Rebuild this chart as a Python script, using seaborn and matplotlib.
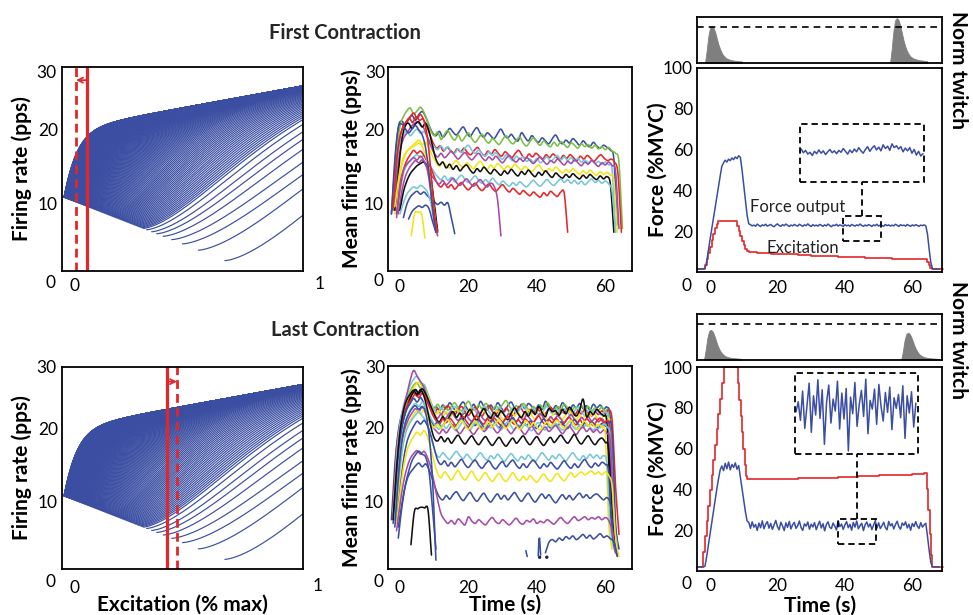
import numpy as np
import pandas as pd
import matplotlib
matplotlib.use("Agg")
import matplotlib.pyplot as plt
from matplotlib.patches import Rectangle
import seaborn as sns

sns.set_theme(style="white")
plt.rcParams['font.family'] = ['Lato', 'DejaVu Sans']

# ---------------------------------------------------------------- colours
BLUE, GREEN, RED = '#3B4EA2', '#7AC043', '#E3262A'
CYAN, PURPLE, YELLOW, BLACK = '#76C7D9', '#A64BA8', '#F2E41C', '#111111'
PAL = {'b': BLUE, 'g': GREEN, 'r': RED, 'c': CYAN, 'm': PURPLE, 'y': YELLOW, 'k': BLACK}

# ---------------------------------------------------------------- motor unit pool (rate vs excitation)
pool_rate_base = 20.0        # pps, asymptote intercept
pool_rate_slope = 6.0        # pps per unit excitation
pool_knee_depth = 2.5
pool_knee_scale = 0.08
onset_rate_first = 10.8      # pps at recruitment of the first unit
onset_rate_slope = -13.0     # change of onset rate with threshold
late_thresholds = [0.337, 0.351, 0.372, 0.393, 0.420, 0.455, 0.500, 0.566, 0.676]
early_threshold_range = (0.008, 0.33)
n_early_units = 200
exc_first = {'solid': 0.104, 'dashed': 0.058}
exc_last = {'solid': 0.437, 'dashed': 0.477}

# ---------------------------------------------------------------- mean firing rates, first contraction (1 s samples)
first_colors = ['b', 'g', 'r', 'c', 'm', 'y', 'k', 'c', 'r', 'm', 'b',
                'k', 'y', 'c', 'b', 'y', 'm', 'b', 'r']
first_onsets = [-2.5, -2.0, -2.3, -2.0, -2.0, -1.5, -1.5, -1.0, -1.0, -0.5, 1.0,
                0.0, -1.5, 0.0, 2.5, 3.3, -1.0, -2.5, -2.0]
first_rates = [
    [8.5, 15, 20.3, 21.2, 20.6, 21.4, 22.0, 21.3, 22.1, 22.5, 21.8, 20.6, 19.6, 19.2, 19.8, 19.0, 19.5, 20.2, 19.7, 19.3,
     19.9, 20.4, 19.6, 19.1, 19.8, 20.3, 19.5, 19.0, 19.6, 19.2, 18.8, 19.5, 20.1, 19.3, 18.9, 19.4, 18.8, 18.5, 19.6, 19.0,
     18.5, 19.2, 18.7, 18.3, 18.9, 18.5, 18.1, 18.8, 19.3, 18.5, 18.1, 18.6, 18.2, 18.8, 18.4, 17.9, 18.5, 18.0, 17.7, 18.3,
     17.8, 17.5, 17.9, 17.6, 17.2, 16.0, 7.0],
    [9.5, 16.5, 20.5, 21.8, 22.6, 23.0, 22.2, 22.6, 23.1, 22.4, 21.2, 19.9, 19.2, 19.7, 18.7, 19.4, 19.9, 19.1, 18.6, 19.3,
     18.5, 19.0, 19.6, 18.8, 18.3, 18.9, 19.4, 18.6, 18.2, 18.8, 18.4, 18.0, 18.7, 19.2, 18.5, 18.1, 18.6, 19.0, 18.2, 17.8,
     18.4, 18.9, 18.3, 17.9, 18.5, 18.0, 17.7, 18.3, 17.8, 18.4, 18.0, 17.6, 18.2, 17.9, 17.5, 18.1, 17.7, 18.0, 17.5, 17.9,
     17.4, 17.7, 17.3, 17.6, 17.1, 16.8, 15.5, 6.5],
    [9.0, 14.5, 18.3, 20.2, 21.0, 21.6, 21.0, 21.8, 21.3, 21.5, 20.6, 19.4, 18.2, 17.5, 17.8, 17.1, 17.6, 17.2, 16.8, 17.4,
     17.0, 17.5, 16.9, 16.6, 17.2, 17.6, 16.9, 16.5, 17.1, 16.7, 17.3, 16.8, 16.4, 17.0, 16.6, 16.2, 16.8, 17.2, 16.5, 16.1,
     16.7, 16.3, 16.8, 16.4, 16.0, 16.6, 16.2, 16.7, 16.3, 15.9, 16.5, 16.1, 16.6, 16.2, 15.8, 16.4, 16.0, 16.5, 16.1, 15.7,
     16.2, 16.6, 16.1, 15.8, 16.0, 15.6, 14.0, 6.0],
    [10.0, 15.0, 18.3, 19.3, 19.8, 19.2, 19.7, 20.1, 19.5, 19.8, 19.0, 18.3, 17.7, 17.3, 17.8, 17.2, 17.7, 17.1, 16.8, 17.4,
     16.9, 17.5, 17.9, 17.2, 16.8, 17.3, 16.7, 16.4, 17.0, 16.5, 16.9, 16.3, 16.0, 16.6, 16.2, 15.8, 16.4, 16.0, 16.3, 15.7,
     16.0, 15.6, 16.1, 15.5, 15.9, 16.3, 15.7, 16.1, 16.5, 15.9, 16.3, 15.8, 16.2, 15.7, 16.1, 15.6, 15.9, 15.5, 15.8, 15.4,
     15.7, 15.3, 15.6, 15.2, 14.5, 6.0],
    [9.0, 13.5, 17.0, 18.8, 19.5, 20.3, 20.8, 21.1, 20.6, 20.2, 19.0, 17.8, 16.8, 16.3, 16.8, 16.2, 16.6, 17.1, 16.5, 16.0,
     16.5, 16.9, 16.3, 15.9, 16.4, 16.8, 16.2, 15.8, 16.3, 15.9, 16.4, 15.9, 15.5, 16.1, 16.5, 15.9, 15.6, 16.1, 15.7, 16.2,
     15.8, 15.4, 15.9, 16.3, 15.7, 15.3, 15.8, 15.5, 16.0, 15.6, 15.2, 15.7, 15.4, 15.9, 15.5, 15.1, 15.6, 15.3, 15.8, 15.4,
     15.0, 15.5, 15.2, 15.6, 15.1, 14.3, 6.5],
    [8.5, 12.0, 15.0, 16.5, 17.3, 17.8, 18.2, 18.6, 18.0, 18.3, 17.5, 16.4, 15.6, 15.0, 15.6, 15.1, 14.8, 15.4, 15.8, 15.2,
     14.9, 15.5, 15.1, 14.7, 15.3, 15.7, 15.0, 14.6, 15.2, 14.8, 15.4, 15.0, 14.6, 15.1, 14.7, 15.3, 14.9, 14.5, 15.0, 14.6,
     14.3, 14.8, 15.2, 14.6, 14.2, 14.7, 14.4, 14.9, 14.5, 14.1, 14.6, 14.2, 14.7, 14.3, 13.9, 14.4, 14.0, 14.5, 14.1, 13.8,
     14.3, 13.9, 14.2, 13.8, 13.0, 6.0],
    [9.0, 14.0, 18.5, 20.5, 20.9, 20.2, 20.8, 21.1, 20.4, 20.9, 19.8, 17.8, 16.0, 15.2, 15.6, 14.8, 15.3, 14.6, 15.1, 14.4,
     14.9, 15.2, 14.5, 14.1, 14.7, 14.3, 14.9, 14.4, 14.0, 14.6, 14.2, 13.8, 14.4, 14.0, 14.6, 14.1, 13.7, 14.3, 13.9, 14.5,
     14.0, 13.6, 14.2, 13.8, 14.4, 13.9, 13.5, 14.1, 13.7, 13.4, 13.9, 13.5, 14.0, 13.6, 13.3, 13.8, 13.4, 13.9, 13.5, 13.2,
     13.7, 13.3, 13.6, 12.5, 6.0],
    [8.5, 11.5, 14.0, 15.2, 15.8, 16.3, 16.6, 16.2, 16.5, 15.8, 15.0, 14.2, 13.6, 13.2, 13.7, 13.1, 13.5, 12.9, 13.4, 13.8,
     13.2, 12.8, 13.3, 13.7, 13.1, 12.7, 13.2, 12.8, 13.4, 12.9, 12.5, 13.0, 12.6, 12.3, 12.8, 12.4, 12.9, 12.5, 12.2, 12.7,
     13.1, 12.6, 12.3, 12.8, 13.2, 12.7, 12.4, 12.9, 13.3, 12.8, 13.2, 12.7, 13.1, 12.6, 13.0, 12.5, 12.9, 13.3, 12.8, 13.1,
     12.7, 13.0, 12.6, 11.5, 6.0],
    [8.5, 12.0, 14.5, 15.8, 16.6, 17.2, 16.8, 17.1, 16.5, 15.6, 14.8, 13.6, 12.6, 12.2, 12.7, 12.1, 12.5, 11.9, 12.4, 12.8,
     12.2, 11.8, 12.3, 12.7, 12.1, 11.7, 12.2, 12.6, 12.0, 11.6, 12.1, 12.5, 11.9, 11.5, 12.0, 11.6, 11.2, 11.7, 11.3, 11.0,
     11.5, 11.1, 10.8, 11.4, 11.0, 11.6, 11.2, 10.9, 11.5, 11.3, 6.0],
    [8.5, 11.5, 13.5, 14.6, 15.3, 15.8, 15.5, 15.9, 15.2, 14.3, 13.6, 13.0, 12.6, 13.1, 12.5, 12.9, 13.4, 12.8, 12.4, 12.9,
     13.3, 12.7, 12.3, 12.8, 13.2, 12.6, 12.2, 12.7, 12.3, 10.5, 5.5],
    [8.0, 9.8, 10.8, 11.3, 11.6, 11.2, 11.5, 11.0, 10.6, 10.2, 9.8, 10.1, 9.7, 10.0, 8.0, 5.8],
    [9.0, 11.5, 13.0, 14.0, 14.6, 15.1, 15.4, 15.6, 15.0, 13.5, 10.0, 6.2],
    [9.5, 13.0, 15.5, 16.8, 17.3, 17.6, 17.9, 18.2, 17.7, 16.5, 14.5, 11.0, 7.0],
    [8.5, 10.0, 11.2, 11.8, 12.2, 12.0, 12.4, 12.1, 11.5, 10.0, 7.5, 6.0],
    [7.8, 8.8, 9.3, 9.6, 9.4, 9.7, 9.2, 7.5, 6.0],
    [5.5, 8.6, 8.7, 8.5, 5.2],
    [8.0, 12.5, 14.5, 15.3, 15.8, 16.2, 15.9, 16.4, 15.8, 14.5, 11.5, 7.5, 5.5],
    [8.5, 16.0, 20.3, 20.8, 20.2, 19.6, 20.1, 20.6, 20.0, 19.3, 17.5, 14.0, 9.5, 6.0],
    [9.5, 15.5, 19.0, 20.5, 21.2, 21.8, 22.3, 21.6, 22.1, 21.2, 19.0, 14.5, 9.0, 6.0],
]

# ---------------------------------------------------------------- mean firing rates, last contraction (1 s samples)
last_colors = ['b', 'g', 'r', 'c', 'y', 'm', 'k', 'r', 'b', 'c', 'm', 'y', 'k', 'c', 'b', 'y', 'b', 'm', 'b',
               'k', 'b', 'b']
last_onsets = [-2.5, -2.0, -2.0, -2.0, -1.5, -2.0, -1.5, -1.5, -2.0, -1.5, -1.5, -1.0, -2.0, -1.5, -1.0, -1.0, -0.5,
               -1.0, 42.5, 3.2, -1.5, -0.5]
last_rates = [
    [7.5, 15.0, 19.5, 21.8, 23.0, 24.0, 24.6, 25.2, 24.5, 25.3, 24.6, 23.8, 22.4, 22.9, 22.3, 23.1, 22.6, 23.4, 22.8, 22.2,
     23.0, 23.5, 22.7, 22.3, 23.2, 22.6, 23.6, 22.9, 22.4, 23.1, 22.5, 23.4, 22.8, 22.2, 23.0, 23.5, 22.7, 22.3, 23.2, 22.6,
     23.3, 22.9, 22.4, 23.1, 22.5, 23.6, 22.8, 22.3, 23.0, 22.6, 23.4, 22.8, 22.2, 23.1, 22.7, 23.3, 22.6, 23.0, 22.4, 23.2,
     22.7, 23.1, 22.5, 22.8, 21.0, 9.0, 4.5],
    [8.0, 15.5, 20.0, 22.5, 23.8, 25.0, 25.8, 26.1, 25.4, 25.9, 24.8, 23.5, 22.6, 23.2, 22.5, 23.0, 22.4, 22.9, 23.4, 22.7,
     22.3, 23.0, 23.6, 22.8, 22.4, 23.1, 22.6, 23.3, 22.9, 22.4, 23.0, 22.5, 23.2, 23.7, 22.9, 22.4, 23.0, 22.6, 23.3, 22.8,
     22.3, 22.9, 22.5, 23.1, 22.6, 23.4, 22.8, 22.3, 22.9, 22.5, 23.2, 22.7, 22.2, 22.8, 22.4, 23.0, 22.5, 22.9, 22.3, 22.7,
     22.4, 22.8, 22.2, 21.5, 10.0, 5.0],
    [9.5, 17.0, 20.5, 22.4, 23.5, 24.2, 24.8, 24.3, 25.0, 24.5, 23.6, 22.8, 22.0, 22.6, 21.9, 22.5, 23.0, 22.3, 21.8, 22.4,
     22.9, 22.2, 21.7, 22.3, 22.8, 22.1, 21.6, 22.4, 23.0, 22.2, 21.8, 22.5, 22.0, 22.7, 22.1, 21.7, 22.4, 22.9, 22.2, 21.8,
     22.5, 22.0, 22.6, 22.1, 21.7, 22.3, 22.8, 22.2, 21.8, 22.4, 22.0, 22.6, 22.1, 21.7, 22.3, 21.9, 22.5, 22.0, 21.6, 22.2,
     21.8, 22.3, 21.9, 22.4, 21.0, 12.0, 5.5],
    [8.5, 16.0, 20.5, 23.0, 24.5, 25.8, 26.6, 27.0, 26.2, 25.8, 24.6, 23.4, 22.5, 22.0, 22.7, 22.2, 21.8, 22.5, 22.9, 22.3,
     21.9, 22.6, 22.1, 22.8, 22.3, 21.8, 22.4, 22.9, 22.2, 21.7, 22.3, 22.8, 22.1, 21.6, 22.2, 22.7, 22.0, 22.5, 23.0, 22.3,
     21.9, 22.6, 22.1, 21.7, 22.4, 22.9, 22.2, 21.8, 22.5, 22.0, 22.6, 22.1, 21.6, 22.3, 22.8, 22.2, 21.7, 22.4, 22.0, 22.5,
     22.1, 21.7, 22.2, 20.5, 9.5, 5.0],
    [9.0, 16.5, 21.0, 23.0, 24.2, 25.0, 25.8, 26.2, 25.6, 25.0, 23.8, 22.5, 21.8, 22.3, 21.6, 22.2, 21.5, 21.9, 22.5, 21.8,
     21.3, 22.0, 22.6, 21.7, 21.2, 21.9, 22.4, 21.6, 21.1, 21.8, 22.3, 21.5, 21.0, 21.7, 22.2, 21.6, 22.1, 21.4, 21.9, 22.4,
     21.7, 21.2, 21.8, 22.3, 21.5, 21.1, 21.7, 22.2, 21.6, 21.2, 21.8, 22.3, 21.6, 21.1, 21.7, 21.3, 21.9, 21.5, 22.0, 21.4,
     21.0, 21.6, 21.2, 20.0, 8.0, 4.0],
    [8.0, 14.5, 19.5, 22.5, 24.5, 26.5, 27.8, 27.0, 26.3, 25.5, 24.2, 22.8, 21.8, 21.3, 21.9, 21.2, 21.7, 22.2, 21.5, 21.0,
     21.6, 22.0, 21.3, 20.9, 21.5, 22.1, 21.4, 21.0, 21.6, 21.2, 21.8, 21.3, 20.8, 21.4, 21.9, 21.2, 20.8, 21.5, 21.1, 21.7,
     21.2, 20.8, 21.4, 21.9, 21.3, 20.9, 21.5, 21.0, 21.6, 21.2, 20.7, 21.3, 21.8, 21.1, 20.7, 21.4, 21.0, 21.5, 20.9, 21.3,
     20.8, 21.2, 20.6, 19.5, 8.5, 4.5],
    [8.5, 15.0, 19.8, 22.0, 23.4, 24.5, 25.2, 24.7, 25.3, 24.6, 23.5, 22.4, 21.3, 20.8, 21.5, 20.9, 21.6, 22.2, 21.4, 22.0,
     21.2, 21.8, 22.5, 21.6, 21.0, 21.9, 22.6, 21.8, 21.3, 22.1, 21.5, 22.3, 21.7, 21.1, 22.0, 22.7, 21.9, 21.4, 22.2, 21.6,
     22.4, 21.8, 22.9, 22.1, 21.5, 22.6, 22.2, 22.3, 21.7, 22.5, 21.9, 22.8, 22.2, 21.6, 22.4, 23.9, 21.5, 22.2, 21.8, 22.5,
     22.0, 21.6, 20.5, 9.0, 4.0],
    [9.0, 15.5, 20.0, 22.3, 23.3, 24.0, 24.6, 24.1, 24.7, 24.0, 22.9, 21.8, 21.0, 20.5, 21.2, 20.7, 21.3, 20.8, 20.3, 21.0,
     21.5, 20.8, 20.4, 21.1, 21.6, 20.9, 20.5, 21.2, 20.7, 21.3, 20.8, 20.4, 21.0, 21.5, 20.9, 20.5, 21.1, 20.6, 21.2, 20.8,
     20.4, 21.0, 21.6, 20.9, 20.5, 21.1, 20.7, 21.3, 20.8, 20.4, 21.0, 21.4, 20.8, 20.4, 21.1, 20.6, 21.2, 20.8, 20.3, 20.9,
     21.3, 20.7, 20.9, 19.5, 8.0, 4.5],
    [7.0, 13.5, 18.5, 21.0, 22.5, 23.3, 24.0, 23.5, 24.1, 23.3, 22.0, 21.0, 20.3, 20.8, 20.1, 20.6, 21.2, 20.5, 20.0, 20.7,
     21.3, 20.6, 20.1, 20.8, 20.3, 21.0, 20.4, 19.9, 20.6, 21.1, 20.5, 20.0, 20.7, 20.2, 20.9, 21.4, 20.6, 20.1, 20.8, 20.3,
     20.9, 20.4, 19.9, 20.6, 21.2, 20.5, 20.0, 20.7, 20.2, 20.8, 20.3, 19.9, 20.6, 21.1, 20.5, 20.0, 20.7, 20.2, 20.8, 20.4,
     20.0, 20.6, 20.2, 20.7, 19.5, 7.0, 3.5],
    [8.0, 14.0, 18.5, 20.8, 22.0, 22.8, 23.3, 22.9, 23.5, 22.8, 21.8, 20.9, 20.2, 19.8, 20.4, 19.9, 20.5, 20.0, 19.6, 20.3,
     20.8, 20.1, 19.7, 20.4, 20.9, 20.2, 19.8, 20.5, 20.0, 20.6, 20.1, 19.7, 20.3, 20.8, 20.2, 19.7, 20.4, 19.9, 20.5, 20.0,
     19.6, 20.3, 20.7, 20.1, 19.7, 20.4, 20.0, 20.6, 20.1, 19.7, 20.3, 20.8, 20.2, 19.8, 20.4, 20.0, 20.5, 20.1, 19.7, 20.3,
     20.0, 20.5, 20.1, 18.5, 7.5, 4.0],
    [7.5, 13.0, 17.5, 19.8, 21.2, 22.0, 22.6, 22.2, 22.8, 22.0, 21.0, 20.2, 19.6, 19.2, 19.8, 19.3, 19.9, 20.4, 19.7, 19.2,
     19.8, 20.3, 19.6, 19.1, 19.7, 20.2, 19.5, 19.9, 20.4, 19.8, 19.3, 19.9, 20.4, 19.7, 19.2, 19.8, 20.3, 19.6, 19.1, 19.7,
     20.2, 19.6, 19.1, 19.7, 20.1, 19.5, 19.9, 20.3, 19.7, 19.2, 19.8, 20.2, 19.6, 19.1, 19.7, 20.1, 19.5, 19.9, 19.4, 19.8,
     19.3, 19.7, 19.2, 18.0, 7.0, 3.5],
    [8.5, 14.0, 18.0, 20.0, 21.0, 21.8, 22.3, 21.8, 22.5, 21.6, 20.6, 20.0, 20.5, 19.9, 20.6, 21.1, 20.4, 19.9, 20.5, 21.0,
     20.3, 19.8, 20.4, 20.9, 20.2, 19.7, 20.3, 20.8, 20.1, 20.6, 21.1, 20.4, 19.9, 20.5, 21.0, 20.3, 19.8, 20.4, 20.9, 20.2,
     20.7, 20.1, 19.7, 20.3, 20.8, 20.2, 20.6, 21.0, 20.4, 19.9, 20.5, 21.0, 20.3, 19.8, 20.4, 20.9, 20.2, 20.6, 20.1, 20.5,
     20.0, 19.0, 7.0, 3.5],
    [7.5, 14.5, 19.5, 22.3, 23.8, 24.6, 25.1, 24.5, 25.2, 24.3, 22.5, 20.2, 18.6, 18.2, 18.8, 18.1, 18.6, 17.9, 18.5, 19.0,
     18.3, 17.8, 18.4, 18.9, 18.2, 17.7, 18.3, 18.8, 18.1, 17.6, 18.2, 18.7, 18.0, 17.5, 18.1, 18.6, 17.9, 18.4, 18.9, 18.2,
     17.7, 18.3, 18.8, 18.1, 17.6, 18.2, 18.7, 18.0, 18.5, 19.0, 18.4, 17.9, 18.5, 19.1, 18.3, 17.8, 18.4, 18.9, 18.2, 17.7,
     18.3, 18.6, 18.0, 17.0, 8.0, 3.5],
    [7.5, 12.5, 16.5, 19.0, 20.3, 21.1, 21.7, 22.2, 21.6, 21.0, 19.8, 18.0, 16.5, 16.0, 16.6, 16.1, 15.7, 16.3, 16.8, 16.2,
     15.8, 16.4, 15.9, 15.5, 16.1, 16.6, 16.0, 15.6, 16.2, 15.8, 16.4, 15.9, 15.4, 16.0, 16.5, 15.9, 15.5, 16.1, 15.7, 16.3,
     15.8, 15.4, 16.0, 16.6, 16.1, 15.6, 16.2, 15.8, 16.4, 15.9, 15.5, 16.1, 16.6, 16.0, 15.6, 16.2, 15.8, 16.4, 15.9, 16.3,
     15.8, 16.2, 15.0, 6.5, 3.5],
    [7.0, 11.5, 15.5, 18.0, 19.3, 20.2, 20.9, 20.5, 21.0, 20.3, 19.0, 17.2, 15.6, 15.0, 15.5, 14.8, 15.3, 14.7, 15.2, 15.7,
     15.0, 14.6, 15.2, 15.6, 14.9, 14.5, 15.1, 15.5, 14.8, 14.4, 15.0, 15.4, 14.7, 15.2, 15.6, 14.9, 14.5, 15.1, 14.6, 15.2,
     15.6, 15.0, 14.5, 15.1, 14.7, 15.3, 14.8, 14.4, 15.0, 15.5, 14.9, 14.5, 15.1, 14.6, 15.2, 15.7, 15.0, 14.6, 15.2, 14.8,
     15.3, 15.0, 14.0, 6.0, 3.0],
    [7.0, 11.0, 14.5, 16.8, 18.0, 18.8, 19.4, 19.0, 19.6, 18.8, 17.2, 15.3, 13.8, 13.2, 14.0, 13.5, 12.9, 13.6, 14.2, 13.4,
     12.9, 13.5, 14.1, 13.3, 12.8, 13.4, 13.9, 13.2, 12.7, 13.3, 13.8, 13.1, 12.7, 13.3, 13.9, 13.2, 12.8, 13.4, 12.9, 13.5,
     13.0, 12.6, 13.2, 13.7, 13.1, 12.7, 13.3, 13.8, 13.2, 12.8, 13.4, 13.9, 13.3, 13.7, 14.0, 13.6, 13.9, 14.1, 13.7, 14.0,
     13.6, 14.0, 13.5, 12.0, 5.0, 2.5],
    [6.5, 9.5, 12.0, 13.5, 14.2, 14.8, 15.2, 14.7, 15.1, 14.3, 13.0, 11.6, 10.6, 10.2, 10.8, 10.3, 10.9, 11.3, 10.6, 10.1,
     10.7, 11.2, 10.5, 10.0, 10.6, 11.1, 10.4, 9.9, 10.5, 11.0, 10.3, 10.8, 10.2, 10.7, 11.2, 10.5, 10.0, 10.6, 11.1, 10.4,
     9.9, 10.5, 11.0, 10.4, 10.9, 10.3, 9.8, 10.4, 10.9, 10.3, 10.8, 10.2, 10.7, 11.1, 10.5, 10.9, 10.4, 10.8, 11.0, 10.6,
     10.2, 10.5, 9.5, 4.5, 2.5],
    [6.0, 9.5, 12.5, 14.5, 15.8, 16.5, 16.9, 16.4, 16.8, 16.0, 14.6, 12.5, 10.2, 8.3, 7.5, 7.0, 7.4, 6.9, 7.6, 7.2,
     6.8, 7.9, 7.3, 7.0, 7.5, 7.1, 6.8, 7.4, 7.8, 7.2, 7.0, 7.5, 7.1, 6.8, 7.3, 7.7, 7.1, 6.9, 7.4, 7.2,
     7.6, 7.0, 7.3, 7.1, 7.5, 7.2, 6.9, 7.4, 7.8, 7.3, 7.0, 7.5, 7.9, 7.4, 7.6, 7.9, 7.5, 7.8, 7.6, 7.9,
     7.5, 7.8, 7.4, 6.0, 3.0],
    [3.0, 4.4, 4.8, 4.5, 5.0, 4.7, 5.2, 4.9, 5.3, 4.8, 5.1, 5.5, 5.0, 5.4, 4.9, 5.2, 5.6, 5.1, 5.3, 4.9, 4.5, 2.6],
    [4.1, 8.6, 9.0, 9.2, 9.1, 8.8, 2.7],
    [6.5, 13.0, 18.0, 20.5, 21.8, 22.6, 23.0, 22.5, 22.9, 22.0, 19.0, 13.0, 2.0],
    [5.0, 9.0, 12.0, 14.0, 15.5, 16.3, 16.8, 16.4, 16.0, 14.0, 9.0, 3.5],
]
# brief discharges of the last recruited unit before it fires steadily
late_unit_bursts_t = [[36.8, 37.0, 37.2], [40.4, 40.6, 40.8, 41.1]]
late_unit_bursts_v = [[3.3, 2.8, 2.5], [2.6, 4.9, 5.0, 2.7]]
late_unit_spikes_t = [40.8, 42.9]
late_unit_spikes_v = [2.4, 2.4]

# ---------------------------------------------------------------- force (0.5 s samples from -4 s) and excitation (steps)
force_t0, force_dt = -4.0, 0.5
force_first = [1.5, 1.5, 1.5, 1.5, 1.6, 1.8, 5.0, 10.5, 15.8, 21.0, 26.5, 31.2, 36.8, 41.5, 46.9, 51.8,
               53.5, 54.8, 53.9, 55.3, 54.6, 55.9, 55.1, 56.4, 55.6, 57.0, 56.2, 50.0, 42.5, 35.0, 27.8, 23.6,
               23.2, 22.6, 23.0, 22.4, 23.5, 22.8, 22.3, 23.1, 22.7, 23.4,
               22.5, 22.9, 23.3, 22.6, 22.2, 23.0, 23.6, 22.8, 22.4, 23.2,
               22.7, 23.5, 22.9, 22.3, 23.0, 22.6, 23.3, 22.8, 22.5, 23.4,
               22.9, 22.4, 23.1, 22.7, 23.6, 22.8, 22.3, 23.2, 22.6, 23.0,
               22.5, 23.3, 22.9, 22.4, 23.1, 22.6, 23.5, 22.8, 22.2, 23.0,
               22.7, 23.4, 22.5, 23.1, 22.8, 22.3, 23.2, 22.6, 23.0, 22.4,
               23.3, 22.9, 22.5, 23.1, 22.7, 23.5, 22.8, 22.4, 23.0, 22.6,
               23.2, 22.9, 22.3, 23.1, 22.7, 23.4, 22.5, 23.0, 22.8, 22.4,
               23.3, 22.7, 23.1, 22.5, 23.0, 22.6, 23.4, 22.9, 22.3, 23.2,
               22.7, 23.0, 22.5, 23.3, 22.8, 22.4, 23.1, 22.6, 23.2, 22.8,
               22.4, 23.0, 22.7, 23.1, 22.6,
               18.5, 11.0, 4.5, 1.6, 1.5, 1.5, 1.5, 1.5]
force_last = [2.0, 2.0, 2.0, 2.0, 2.0, 2.3, 7.0, 12.5, 18.0, 23.5, 29.0, 34.5, 40.0, 45.0, 49.5,
              51.5, 49.2, 52.8, 50.1, 53.4, 49.6, 52.2, 50.8, 53.0, 49.9, 51.7,
              46.0, 40.5, 34.8, 29.0, 24.5,
              23.8, 20.9, 24.1, 21.5, 22.8, 19.9, 23.5, 21.2, 24.6, 20.7,
              22.9, 24.2, 21.0, 23.3, 20.4, 22.6, 24.8, 21.7, 20.2, 23.9,
              22.1, 19.8, 23.6, 21.4, 24.3, 20.6, 22.7, 23.8, 20.9, 22.2,
              24.5, 21.3, 19.9, 23.1, 22.0, 24.0, 20.5, 22.9, 21.6, 23.7,
              20.3, 22.5, 24.4, 21.1, 23.2, 19.7, 22.8, 24.1, 21.4, 20.8,
              23.5, 22.0, 20.1, 24.7, 21.8, 23.0, 20.4, 22.6, 24.2, 21.2,
              22.9, 20.0, 23.8, 21.5, 24.5, 20.7, 22.3, 23.4, 19.8, 22.7,
              24.0, 21.6, 23.1, 20.3, 22.5, 24.6, 21.0, 23.6, 20.8, 22.2,
              23.9, 21.3, 20.2, 24.3, 22.1, 23.2, 20.6, 22.8, 24.4, 21.7,
              20.5, 23.5, 22.4, 24.1, 21.1, 22.9, 20.0, 23.3, 21.8, 24.2,
              22.0, 20.9, 23.7, 21.5, 22.6, 23.4,
              17.0, 10.0, 4.0, 2.1, 2.0, 2.0, 2.0, 2.0]

exc_first_t = [-4, -1.5, -1, -0.5, 0, 0.5, 1, 1.5, 2, 2.5, 8, 8.5, 9, 9.5, 10, 10.5, 11, 11.5, 14, 18, 22, 26,
               30, 34, 38, 42, 46, 50, 54, 58, 62, 64.3, 64.8, 65.3, 65.8, 69]
exc_first_v = [1.5, 3.5, 6.5, 9.5, 12.5, 15.5, 18.5, 21.5, 23.5, 24.8, 22.5, 20.0, 17.5, 15.0, 13.0, 11.5, 10.2, 9.6,
               9.3, 9.0, 8.6, 8.3, 8.0, 7.7, 7.4, 7.2, 7.0, 6.8, 6.6, 6.5, 6.3, 4.8, 3.2, 1.8, 1.5, 1.5]
exc_last_t = [-4, -2, -1.5, -1, -0.5, 0, 0.5, 1, 1.5, 2, 2.5, 3, 3.5, 4, 8.3, 8.7, 9.1, 9.5, 9.9, 10.3, 10.7, 11.1,
              14, 20, 26, 32, 38, 44, 50, 56, 60, 63.5, 64.3, 64.7, 65.1, 65.5, 65.9, 69]
exc_last_v = [2, 9.5, 17, 24.5, 32, 39.5, 47, 54.5, 62, 69.5, 77, 84.5, 92, 100, 92, 84, 76, 68, 60, 52, 46.5, 45.3,
              45.0, 45.2, 45.5, 45.8, 46.1, 46.5, 46.9, 47.3, 47.6, 48.0, 40, 30, 18, 8, 2, 2]

# zoomed force segments shown in the insets (0.2 s samples)
zoom_first_t0 = 39.6
zoom_first = [22.3, 21.5, 22.0, 21.2, 21.6, 20.9, 21.8, 21.3, 22.1, 21.4, 21.9, 21.1, 21.7, 22.2, 21.5, 21.9, 21.3,
              22.0, 21.6, 22.4, 21.8, 21.2, 22.1, 21.5, 22.3, 21.7, 22.6, 21.9, 21.4, 22.2, 22.8, 21.8, 22.5, 23.0,
              22.1, 22.7, 21.9, 23.2, 22.4, 22.9, 22.0, 23.4, 22.6, 23.0, 22.3, 22.8, 21.7, 22.5, 21.9, 22.6, 21.4,
              22.2, 21.0, 21.8, 20.8, 21.3]
zoom_last_t0 = 38.1
zoom_last = [19.5, 21.0, 18.2, 22.6, 17.0, 20.4, 23.8, 16.4, 21.9, 19.0, 24.3, 18.5, 22.8, 14.6, 20.9, 23.5, 17.8,
             21.4, 19.6, 24.1, 16.9, 22.3, 18.4, 23.0, 13.6, 21.7, 19.2, 23.9, 17.3, 20.6, 22.7, 18.8, 24.4, 16.2,
             21.2, 19.9, 22.9, 17.6, 23.6, 20.3, 18.1, 22.4, 19.4, 23.2, 16.8, 21.6, 20.0, 22.1, 18.6, 23.4, 15.5,
             21.9, 19.3, 22.5, 17.2, 20.8]
zoom_window_first = (39.5, 50.7, 15.3, 27.6)
zoom_panel_first = (26.7, 63.5, 44.3, 72.4)
zoom_window_last = (38.0, 49.3, 13.1, 25.3)
zoom_panel_last = (25.2, 61.7, 57.2, 97.0)

# normalised twitch (0.5 s samples) and the two probes of each contraction
twitch_shape = [0, 0.32, 0.72, 0.95, 1.0, 0.96, 0.84, 0.67, 0.5, 0.37, 0.27, 0.2, 0.15, 0.12, 0.1,
                0.085, 0.075, 0.065, 0.06, 0.055, 0.05, 0.045, 0.04]
twitch_first_onsets, twitch_first_amps = [-1.5, 53.4], [1.03, 1.25]
twitch_last_onsets, twitch_last_amps = [-1.8, 56.7], [0.84, 0.76]

# ---------------------------------------------------------------- figure
W, H = 973, 615
fig = plt.figure(figsize=(W / 100, H / 100), dpi=100)


def rect(x0, y0, x1, y1):
    return [x0 / W, 1 - y1 / H, (x1 - x0) / W, (y1 - y0) / H]


def ftext(x, y, s, **kw):
    fig.text(x / W, 1 - y / H, s, **kw)


def frame(ax, xpad=6):
    for sp in ax.spines.values():
        sp.set_visible(True)
        sp.set_color('black')
        sp.set_linewidth(1.3)
    ax.tick_params(direction='in', length=4, width=1.8, colors='black', labelsize=12.5)
    ax.tick_params(axis='y', pad=3)
    ax.tick_params(axis='x', pad=xpad)
    ax.set_xlabel('')
    ax.set_ylabel('')


def spline_path(t, v, n=8):
    """Smooth Catmull-Rom path through the sampled points (it passes through every sample)."""
    t = np.asarray(t, float)
    v = np.asarray(v, float)
    if len(v) < 3:
        return t, v
    vp = np.concatenate([[2 * v[0] - v[1]], v, [2 * v[-1] - v[-2]]])
    s = np.linspace(0, 1, n, endpoint=False)
    tt, vv = [], []
    for i in range(len(v) - 1):
        p0, p1, p2, p3 = vp[i], vp[i + 1], vp[i + 2], vp[i + 3]
        vv.append(0.5 * (2 * p1 + (p2 - p0) * s + (2 * p0 - 5 * p1 + 4 * p2 - p3) * s ** 2
                         + (3 * p1 - p0 - 3 * p2 + p3) * s ** 3))
        tt.append(t[i] + (t[i + 1] - t[i]) * s)
    tt.append([t[-1]])
    vv.append([v[-1]])
    return np.concatenate(tt), np.concatenate(vv)


# ---- left panels: rate vs excitation
def pool_frame():
    early = np.geomspace(*early_threshold_range, n_early_units)
    thr = np.concatenate([early, late_thresholds])
    rows = []
    for i, e0 in enumerate(thr):
        r0 = onset_rate_first + onset_rate_slope * (e0 - early_threshold_range[0])
        w = min(0.72, 0.03 + 1.45 * e0)
        p = 1.0 + 0.5 * min(1.0, e0 / 0.2)
        e = np.linspace(e0, 1.0, 160)
        asym = pool_rate_base + pool_rate_slope * e - pool_knee_depth * np.exp(-e / pool_knee_scale)
        frac = 1 - np.exp(-((e - e0) / w) ** p)
        rows.append(pd.DataFrame({'exc': e, 'rate': r0 + (asym - r0) * frac, 'unit': i}))
    return pd.concat(rows)


pool = pool_frame()


def left_panel(box, ylim, marks, arrow_y, xpad):
    ax = fig.add_axes(rect(*box))
    sns.lineplot(data=pool, x='exc', y='rate', units='unit', estimator=None, color=BLUE,
                 lw=0.85, ax=ax, legend=False)
    ax.set_xlim(0, 1)
    ax.set_ylim(*ylim)
    ax.axvline(marks['solid'], color=RED, lw=2.3)
    ax.axvline(marks['dashed'], color=RED, lw=2.0, ls=(0, (3.2, 1.8)))
    ax.annotate('', xy=(marks['dashed'], arrow_y), xytext=(marks['solid'], arrow_y),
                arrowprops=dict(arrowstyle='->', color=RED, lw=1.3, shrinkA=0, shrinkB=0,
                                mutation_scale=9))
    ax.set_xticks([0.2, 0.4, 0.6, 0.8])
    ax.set_xticklabels([])
    ax.set_yticks([10, 20])
    frame(ax, xpad)
    return ax


left_panel((62, 67, 303, 271), (0.7, 28.6), exc_first, 26.8, 6)
left_panel((62, 367, 303, 569), (0.8, 28.4), exc_last, 26.4, 8)


# ---- middle panels: mean firing rate vs time
def rate_frame(onsets, rates):
    rows = []
    for i, (t0, vals) in enumerate(zip(onsets, rates)):
        ts, vs = spline_path(t0 + np.arange(len(vals)), vals)
        rows.append(pd.DataFrame({'t': ts, 'rate': vs, 'mu': f'u{i}'}))
    return pd.concat(rows)


def mid_panel(box, ylim, onsets, rates, colors, xpad):
    ax = fig.add_axes(rect(*box))
    df = rate_frame(onsets, rates)
    pal = {f'u{i}': PAL[c] for i, c in enumerate(colors)}
    sns.lineplot(data=df, x='t', y='rate', hue='mu', palette=pal, estimator=None, lw=1.15,
                 ax=ax, legend=False, sort=False)
    ax.set_xlim(-3.5, 67.8)
    ax.set_ylim(*ylim)
    ax.set_xticks([0, 20, 40, 60])
    ax.set_yticks([10, 20])
    frame(ax, xpad)
    ax.xaxis.get_major_ticks()[0].tick1line.set_visible(False)
    return ax


mid_panel((388, 67, 632, 271), (0.7, 28.6), first_onsets, first_rates, first_colors, 6)
axm = mid_panel((388, 366, 632, 569), (0.8, 28.4), last_onsets, last_rates, last_colors, 8)
for bt, bv in zip(late_unit_bursts_t, late_unit_bursts_v):
    sns.lineplot(x=bt, y=bv, color=BLUE, lw=1.15, ax=axm, estimator=None)
sns.scatterplot(x=late_unit_spikes_t, y=late_unit_spikes_v, color='#222244', s=6, ax=axm,
                edgecolor='none')
axm.set_xlabel('')
axm.set_ylabel('')


# ---- right panels: force / excitation, with twitch strip above
def zoom_map(t, v, win, pan):
    sx0, sx1, sy0, sy1 = win
    bx0, bx1, by0, by1 = pan
    return (bx0 + (np.asarray(t) - sx0) * (bx1 - bx0) / (sx1 - sx0),
            by0 + (np.asarray(v) - sy0) * (by1 - by0) / (sy1 - sy0))


def dashed_box(ax, x0, x1, y0, y1):
    ax.add_patch(Rectangle((x0, y0), x1 - x0, y1 - y0, fill=False, ec='black', lw=1.3,
                           ls=(0, (3.5, 2.2)), zorder=5))


def force_panel(box, tbox, force, exc_t, exc_v, zt0, zvals, win, pan, onsets, amps, xpad,
                labels=False):
    ax = fig.add_axes(rect(*box))
    t = force_t0 + force_dt * np.arange(len(force))
    sns.lineplot(x=exc_t, y=exc_v, color=RED, lw=1.2, drawstyle='steps-post', ax=ax,
                 estimator=None)
    sns.lineplot(x=t, y=force, color=BLUE, lw=1.1, ax=ax, estimator=None)
    ax.set_xlim(-3.86, 68.8)
    ax.set_ylim(0, 100)
    ax.lines[0].set_clip_on(False)
    ax.set_xticks([0, 20, 40, 60])
    ax.set_yticks([20, 40, 60, 80, 100])
    frame(ax, xpad)
    ax.xaxis.get_major_ticks()[0].tick1line.set_visible(False)
    # inset of the boxed stretch of force
    sx0, sx1, sy0, sy1 = win
    bx0, bx1, by0, by1 = pan
    dashed_box(ax, sx0, sx1, sy0, sy1)
    dashed_box(ax, bx0, bx1, by0, by1)
    xc = 0.5 * (sx0 + sx1)
    ax.plot([xc, xc], [sy1, by0], color='black', lw=1.3, ls=(0, (3.5, 2.2)))
    zt = zt0 + 0.2 * np.arange(len(zvals))
    zx, zy = zoom_map(zt, zvals, win, pan)
    sns.lineplot(x=zx, y=zy, color=BLUE, lw=1.1, ax=ax, estimator=None)
    ax.set_xlabel('')
    ax.set_ylabel('')
    if labels:
        ax.text(11.9, 32, 'Force output', fontsize=12, va='center', ha='left', color='#222222')
        ax.text(16.9, 11.8, 'Excitation', fontsize=12, va='center', ha='left', color='#222222')

    tw = fig.add_axes(rect(*tbox))
    for on, a in zip(onsets, amps):
        tt = on + 0.5 * np.arange(len(twitch_shape))
        tw.fill_between(tt, 0, a * np.asarray(twitch_shape), color='#7F7F7F', lw=0.6,
                        edgecolor='#7F7F7F')
    tw.axhline(1.0, color='black', lw=1.2, ls=(0, (4, 3)))
    tw.set_xlim(-3.86, 68.8)
    tw.set_ylim(0, 1.28)
    tw.set_xticks([])
    tw.set_yticks([])
    for sp in tw.spines.values():
        sp.set_visible(True)
        sp.set_color('black')
        sp.set_linewidth(1.3)
    return ax


force_panel((697, 68, 942, 272), (697, 17, 942, 63), force_first, exc_first_t, exc_first_v,
            zoom_first_t0, zoom_first, zoom_window_first, zoom_panel_first,
            twitch_first_onsets, twitch_first_amps, 6, labels=True)
force_panel((697, 367, 942, 571), (697, 314, 942, 360), force_last, exc_last_t, exc_last_v,
            zoom_last_t0, zoom_last, zoom_window_last, zoom_panel_last,
            twitch_last_onsets, twitch_last_amps, 5)

# ---------------------------------------------------------------- free text: end labels, axis titles
num = dict(fontsize=12.5, color='black', va='center')
for y30, y0, x0lab, x1lab, xy in [(73, 283, 75, 320, 286), (368, 582, 75, 318, 588)]:
    ftext(56, y30, '30', ha='right', **num)
    ftext(50, y0, '0', ha='center', **num)
    ftext(x0lab, xy, '0', ha='center', **num)
    ftext(x1lab, xy - 2, '1', ha='center', **num)
ftext(385, 73, '30', ha='right', **num)
ftext(378, 281, '0', ha='center', **num)
ftext(385, 368, '30', ha='right', **num)
ftext(378, 582, '0', ha='center', **num)
ftext(687, 286, '0', ha='center', **num)
ftext(687, 584, '0', ha='center', **num)

lab = dict(fontsize=15, fontweight='bold', color='black', ha='center', va='center')
for yc in (169, 468):
    ftext(22, yc, 'Firing rate (pps)', rotation=90, **lab)
    ftext(352, yc, 'Mean firing rate (pps)', rotation=90, **lab)
    ftext(658, yc + 1, 'Force (%MVC)', rotation=90, **lab)
ftext(182, 605, 'Excitation (% max)', **lab)
ftext(505, 605, 'Time (s)', **lab)
ftext(820, 606, 'Time (s)', **lab)
ftext(958, 70, 'Norm twitch', rotation=-90, **lab)
ftext(958, 340, 'Norm twitch', rotation=-90, **lab)
ftext(345, 33, 'First Contraction', fontsize=14.5, fontweight='bold', ha='center', va='center')
ftext(345, 330, 'Last Contraction', fontsize=14.5, fontweight='bold', ha='center', va='center')

fig.savefig('out.png', dpi=100)
